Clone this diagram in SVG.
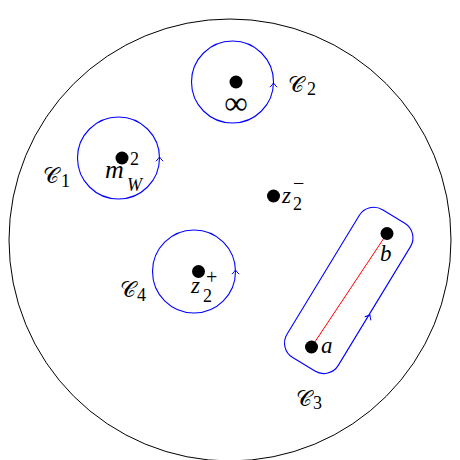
<svg xmlns="http://www.w3.org/2000/svg" width="460" height="460" viewBox="0 0 460 460">
<style>
.bc{fill:none;stroke:#000;stroke-width:1}
.ct{fill:none;stroke:#0000ff;stroke-width:1.1}
.ar{fill:none;stroke:#0000ff;stroke-width:1}
.dot{fill:#000}
.m{font-family:"Liberation Serif","DejaVu Serif",serif;font-style:italic;font-size:23px;fill:#000}
.s{font-family:"Liberation Serif","DejaVu Serif",serif;font-size:18px;fill:#000}
.si{font-family:"Liberation Serif","DejaVu Serif",serif;font-style:italic;font-size:18px;fill:#000}
.cal{font-family:"DejaVu Serif","Noto Sans",serif;font-size:22px;fill:#000}
.inf{font-family:"Liberation Serif","DejaVu Serif",serif;font-size:33px;fill:#000}
</style>
<defs>
<path id="tip" d="M-3.6,4.2 Q-1.2,1.8 0,0 Q1.2,1.8 3.6,4.2"/>
</defs>
<circle class="bc" cx="230" cy="240" r="221"/>
<g id="contours">
<circle class="ct" cx="232.5" cy="82" r="41"/>
<circle class="ct" cx="118.5" cy="158" r="41"/>
<circle class="ct" cx="194" cy="271.5" r="41.5"/>
<rect class="ct" x="-87" y="-30" width="173" height="60" rx="17" transform="translate(349,290) rotate(-58.7)"/>
<line x1="311.5" y1="347" x2="387" y2="233.5" stroke="#ff0000" stroke-width="1"/>
<use href="#tip" class="ar" transform="translate(273.5,83)"/>
<use href="#tip" class="ar" transform="translate(159.5,157)"/>
<use href="#tip" class="ar" transform="translate(235.5,270)"/>
<use href="#tip" class="ar" transform="translate(370,315) rotate(31.3)"/>
</g>
<g id="C2">
<circle class="dot" cx="236" cy="82" r="6.5"/>
<text class="inf" x="236" y="114" text-anchor="middle">∞</text>
<text class="cal" x="288" y="92">𝒞</text><text class="s" x="307" y="95">2</text>
</g>
<g id="C1">
<circle class="dot" cx="122" cy="158" r="6.5"/>
<text class="m" x="105" y="178" style="font-size:26px">m</text><text class="s" x="130" y="165">2</text><text class="si" x="127" y="191">W</text>
<text class="cal" x="43" y="183">𝒞</text><text class="s" x="61" y="187">1</text>
</g>
<g id="C4">
<circle class="dot" cx="198.5" cy="271.5" r="6.5"/>
<text class="m" x="191" y="293">z</text><text class="s" x="203" y="302">2</text><text class="s" x="206" y="284" style="font-size:20px">+</text>
<text class="cal" x="120" y="297">𝒞</text><text class="s" x="137" y="301">4</text>
</g>
<g id="zminus">
<circle class="dot" cx="273.5" cy="196" r="6.5"/>
<text class="m" x="282" y="203">z</text><text class="s" x="293" y="210">2</text><text class="s" x="293" y="190" style="font-size:20px">−</text>
</g>
<g id="C3">
<circle class="dot" cx="311.5" cy="347" r="6.5"/>
<circle class="dot" cx="387" cy="233.5" r="6.5"/>
<text class="m" x="321" y="353">a</text>
<text class="m" x="380" y="261">b</text>
<text class="cal" x="296" y="406">𝒞</text><text class="s" x="313" y="409">3</text>
</g>
</svg>
